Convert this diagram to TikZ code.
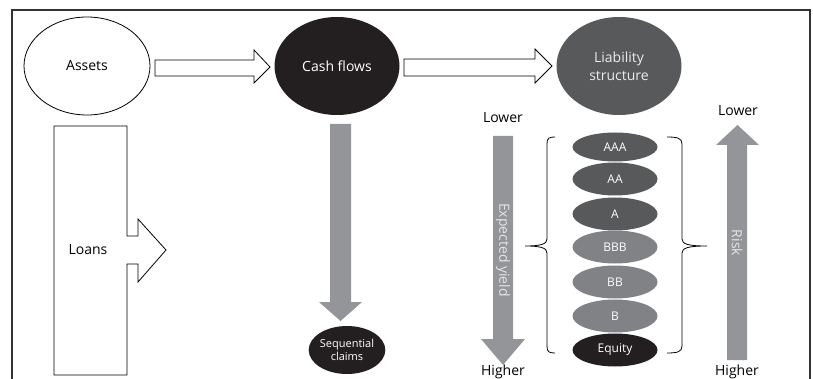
\documentclass[tikz,border=0pt]{standalone}
\usepackage{fontspec}
\setmainfont{Open Sans}
\usetikzlibrary{shapes.geometric}
\definecolor{blk}{HTML}{231F20}
\definecolor{dgray}{HTML}{58595B}
\definecolor{mgray}{HTML}{808285}
\definecolor{agray}{HTML}{939598}
\definecolor{frame}{HTML}{333333}
\tikzset{
  oval/.style={ellipse, inner sep=0pt, align=center, font=\fontsize{14}{18}\selectfont},
  tranche/.style={ellipse, inner sep=0pt, minimum width=85pt, minimum height=33pt, text=white, font=\fontsize{12}{14}\selectfont},
  blockarrow/.style={draw=black, line width=0.8pt, fill=white, line join=miter},
  grayarrow/.style={fill=agray, draw=none},
  label/.style={font=\fontsize{14}{16}\selectfont, inner sep=0pt},
  bracestyle/.style={draw=black, line width=0.8pt}
}
\begin{document}
\begin{tikzpicture}[x=1pt,y=-1pt]
\useasboundingbox (0,0) rectangle (813,379);
% frame
\draw[frame, line width=1.4pt] (12,379) -- (12,10) -- (810,10) -- (810,379);

% top ellipses
\node[oval, draw=black, line width=0.8pt, fill=white, minimum width=126pt, minimum height=98pt] (assets) at (87,66) {Assets};
\node[oval, fill=blk, text=white, minimum width=125pt, minimum height=98pt] (cash) at (337,66) {Cash flows};
\node[oval, fill=dgray, text=white!92!black, minimum width=125pt, minimum height=98pt] (liab) at (619,66) {Liability\\structure};

% block arrows between top ellipses
\draw[blockarrow] (155,60) -- (254,60) -- (254,50) -- (270,67) -- (254,83) -- (254,76) -- (155,76) -- cycle;
\draw[blockarrow] (404,59) -- (535,59) -- (535,49) -- (552,66) -- (535,83) -- (535,76) -- (404,76) -- cycle;

% Loans shape
\draw[blockarrow] (54,126) -- (127,126) -- (127,236) -- (138,236) -- (138,219) -- (166,250) -- (138,282) -- (138,264) -- (127,264) -- (127,375) -- (54,375) -- cycle;
\node[label] (loans) at (88,250) {Loans};

% down arrow from cash flows
\fill[grayarrow] (330,124) -- (351,124) -- (351,302) -- (362,302) -- (340.5,321) -- (319,302) -- (330,302) -- cycle;
\node[ellipse, fill=blk, text=white, inner sep=0pt, minimum width=72pt, minimum height=48pt, align=center, font=\fontsize{11}{13}\selectfont] (seq) at (347,350) {Sequential\\claims};

% expected yield arrow
\node[label] (low1) at (503,118) {Lower};
\fill[grayarrow] (493,136) -- (513,136) -- (513,339) -- (525,339) -- (503,365) -- (481,339) -- (493,339) -- cycle;
\node[label, text=white!90!black, rotate=-90] (ey) at (503,250) {Expected yield};
\node[label] (high1) at (503,372) {Higher};

% tranches
\node[tranche, fill=dgray, minimum height=29pt] (aaa) at (615,147) {AAA};
\node[tranche, fill=dgray] (aa) at (615,179) {AA};
\node[tranche, fill=dgray] (a) at (615,214) {A};
\node[tranche, fill=mgray] (bbb) at (615,247) {BBB};
\node[tranche, fill=mgray] (bb) at (615,282) {BB};
\node[tranche, fill=mgray] (b) at (615,316) {B};
\node[tranche, fill=blk] (eq) at (615,350) {Equity};

% braces
\draw[bracestyle] (555,137) .. controls (549,137) and (547,138) .. (547,144) -- (547,239)
  .. controls (547,244) and (541,246) .. (525,246)
  .. controls (541,246) and (547,248) .. (547,253) -- (547,346)
  .. controls (547,352) and (549,353) .. (555,353);
\draw[bracestyle] (667,137) .. controls (677,137) and (682,138) .. (682,144) -- (682,239)
  .. controls (682,244) and (688,246) .. (707,246)
  .. controls (688,246) and (682,248) .. (682,253) -- (682,346)
  .. controls (682,352) and (677,353) .. (667,353);

% risk arrow
\node[label] (low2) at (738,111) {Lower};
\fill[grayarrow] (727,360) -- (747,360) -- (747,145) -- (759,145) -- (737.5,125) -- (716,145) -- (727,145) -- cycle;
\node[label, text=white!90!black, rotate=-90] (risk) at (737,243) {Risk};
\node[label] (high2) at (737,372) {Higher};
\end{tikzpicture}
\end{document}
